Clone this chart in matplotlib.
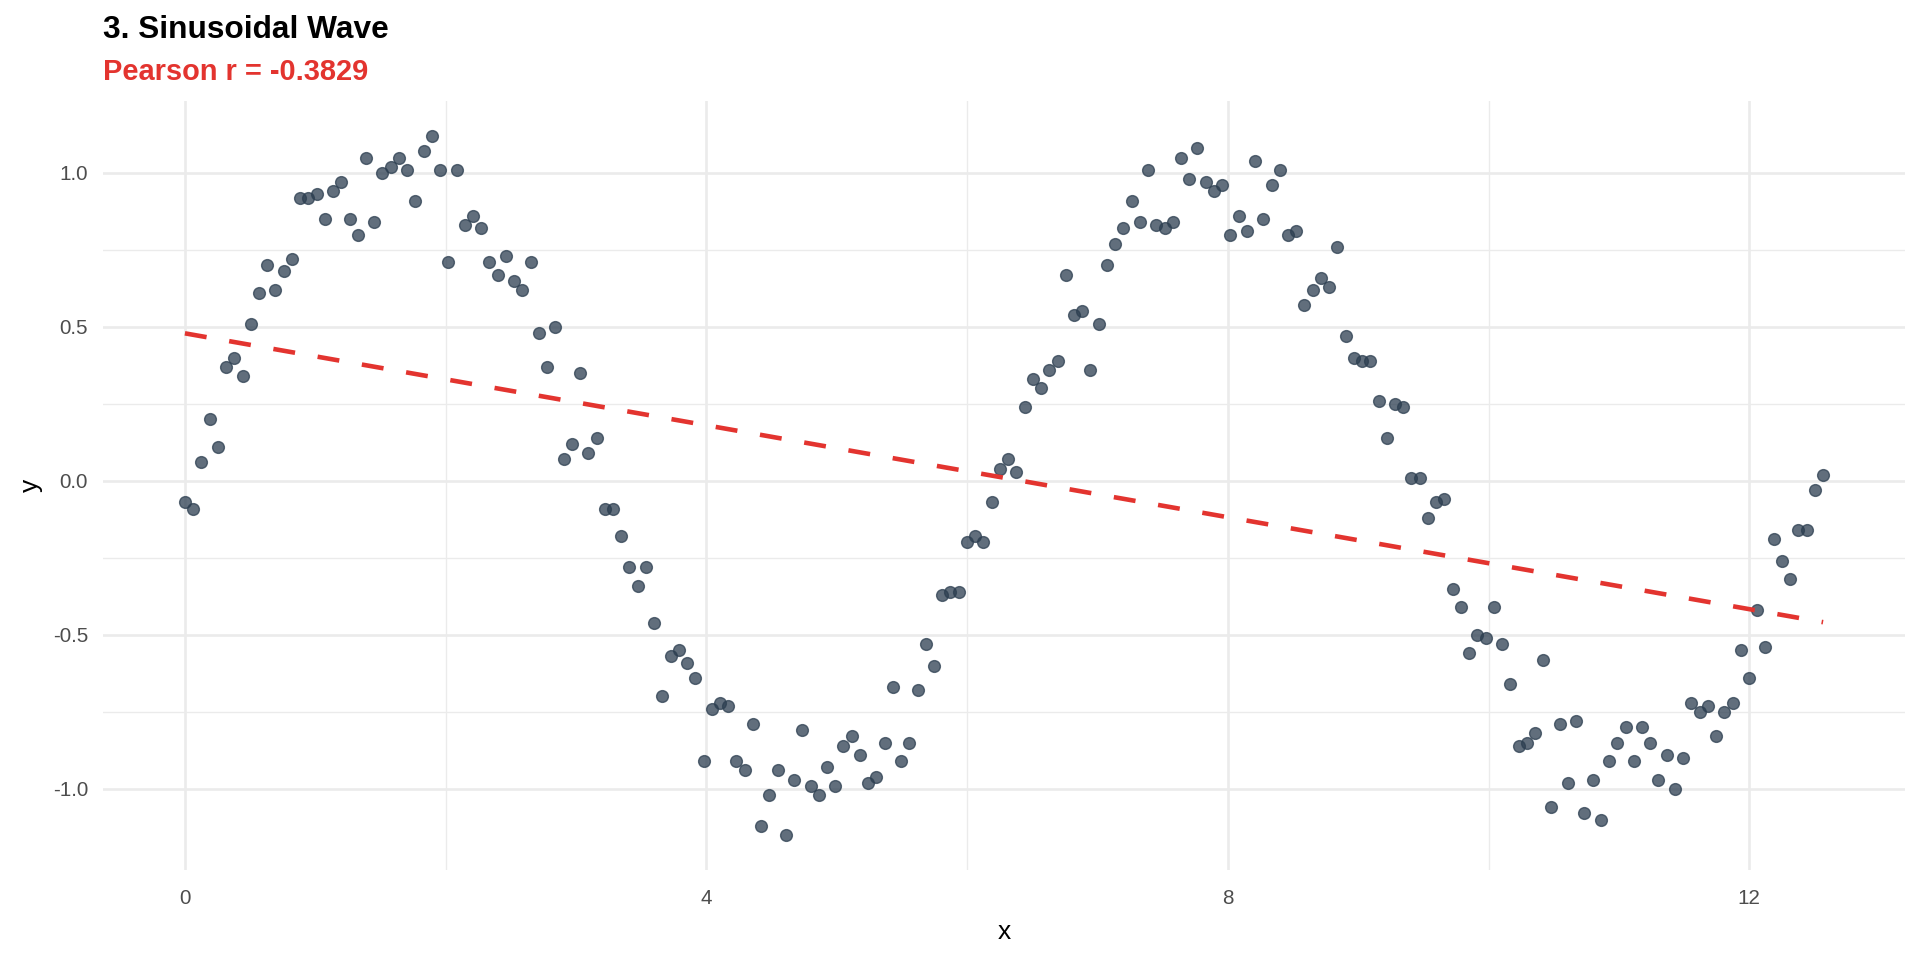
import numpy as np
import matplotlib
matplotlib.use("Agg")
import matplotlib.pyplot as plt
from matplotlib.ticker import FixedLocator, FixedFormatter

# ---------------- data ----------------
TITLE = "3. Sinusoidal Wave"
SUBTITLE = "Pearson r = -0.3829"

# x samples: 200 evenly spaced points between 0 and 4*pi
X_START, X_END, N_POINTS = 0.0, 4 * np.pi, 200
x_vals = np.linspace(X_START, X_END, N_POINTS)

y_vals = [
    -0.07, -0.09, 0.06, 0.20, 0.11, 0.37, 0.40, 0.34, 0.51, 0.61,
    0.70, 0.62, 0.68, 0.72, 0.92, 0.92, 0.93, 0.85, 0.94, 0.97,
    0.85, 0.80, 1.05, 0.84, 1.00, 1.02, 1.05, 1.01, 0.91, 1.07,
    1.12, 1.01, 0.71, 1.01, 0.83, 0.86, 0.82, 0.71, 0.67, 0.73,
    0.65, 0.62, 0.71, 0.48, 0.37, 0.50, 0.07, 0.12, 0.35, 0.09,
    0.14, -0.09, -0.09, -0.18, -0.28, -0.34, -0.28, -0.46, -0.70, -0.57,
    -0.55, -0.59, -0.64, -0.91, -0.74, -0.72, -0.73, -0.91, -0.94, -0.79,
    -1.12, -1.02, -0.94, -1.15, -0.97, -0.81, -0.99, -1.02, -0.93, -0.99,
    -0.86, -0.83, -0.89, -0.98, -0.96, -0.85, -0.67, -0.91, -0.85, -0.68,
    -0.53, -0.60, -0.37, -0.36, -0.36, -0.20, -0.18, -0.20, -0.07, 0.04,
    0.07, 0.03, 0.24, 0.33, 0.30, 0.36, 0.39, 0.67, 0.54, 0.55,
    0.36, 0.51, 0.70, 0.77, 0.82, 0.91, 0.84, 1.01, 0.83, 0.82,
    0.84, 1.05, 0.98, 1.08, 0.97, 0.94, 0.96, 0.80, 0.86, 0.81,
    1.04, 0.85, 0.96, 1.01, 0.80, 0.81, 0.57, 0.62, 0.66, 0.63,
    0.76, 0.47, 0.40, 0.39, 0.39, 0.26, 0.14, 0.25, 0.24, 0.01,
    0.01, -0.12, -0.07, -0.06, -0.35, -0.41, -0.56, -0.50, -0.51, -0.41,
    -0.53, -0.66, -0.86, -0.85, -0.82, -0.58, -1.06, -0.79, -0.98, -0.78,
    -1.08, -0.97, -1.10, -0.91, -0.85, -0.80, -0.91, -0.80, -0.85, -0.97,
    -0.89, -1.00, -0.90, -0.72, -0.75, -0.73, -0.83, -0.75, -0.72, -0.55,
    -0.64, -0.42, -0.54, -0.19, -0.26, -0.32, -0.16, -0.16, -0.03, 0.02,
]

x_ticks = [0, 4, 8, 12]
x_tick_labels = ["0", "4", "8", "12"]
x_minor = [2, 6, 10]
y_ticks = [-1.0, -0.5, 0.0, 0.5, 1.0]
y_tick_labels = ["-1.0", "-0.5", "0.0", "0.5", "1.0"]
y_minor = [-0.75, -0.25, 0.25, 0.75]

# ---------------- style ----------------
POINT_COLOR = "#2C3E50"
LINE_COLOR = "#E3342F"
GRID_COLOR = "#EBEBEB"
TICK_COLOR = "#4D4D4D"

plt.rcParams["font.family"] = ["Liberation Sans", "DejaVu Sans"]
plt.rcParams["axes.unicode_minus"] = False

W, H = 1920, 960
fig = plt.figure(figsize=(W / 100, H / 100), dpi=100)
fig.patch.set_facecolor("white")

pl, pr, pt, pb = 103, 1905, 101, 870
ax = fig.add_axes([pl / W, 1 - pb / H, (pr - pl) / W, (pb - pt) / H])

x = np.asarray(x_vals)
y = np.asarray(y_vals)

ax.scatter(x, y, s=72, facecolor=POINT_COLOR, edgecolor=POINT_COLOR,
           linewidths=1.0, alpha=0.75, zorder=3)

# linear fit (geom_smooth(method="lm"))
slope, intercept = np.polyfit(x, y, 1)
xl = np.array([x.min(), x.max()])
ax.plot(xl, intercept + slope * xl, color=LINE_COLOR, lw=3.3,
        dashes=(4.8, 5.0), dash_capstyle="butt", zorder=4)

# limits with ggplot-like 5% expansion
xr = x.max() - x.min()
ax.set_xlim(x.min() - 0.05 * xr, x.max() + 0.05 * xr)
yr = y.max() - y.min()
ax.set_ylim(y.min() - 0.05 * yr, y.max() + 0.05 * yr)

ax.xaxis.set_major_locator(FixedLocator(x_ticks))
ax.xaxis.set_major_formatter(FixedFormatter(x_tick_labels))
ax.xaxis.set_minor_locator(FixedLocator(x_minor))
ax.yaxis.set_major_locator(FixedLocator(y_ticks))
ax.yaxis.set_major_formatter(FixedFormatter(y_tick_labels))
ax.yaxis.set_minor_locator(FixedLocator(y_minor))

ax.grid(True, which="major", color=GRID_COLOR, lw=1.9, zorder=0)
ax.grid(True, which="minor", color=GRID_COLOR, lw=0.95, zorder=0)
ax.set_axisbelow(True)
for s in ax.spines.values():
    s.set_visible(False)

ax.tick_params(axis="both", which="both", length=0, labelsize=14.9,
               labelcolor=TICK_COLOR)
ax.tick_params(axis="x", which="major", pad=14.0)
ax.tick_params(axis="y", which="major", pad=10.8)

ax.set_xlabel("x", fontsize=19, color="black", va="center")
ax.xaxis.set_label_coords(0.5, (pb - 932) / (pb - pt))
ax.set_ylabel("y", fontsize=19, color="black", va="center")
ax.yaxis.set_label_coords((31 - pl) / (pr - pl), 0.5)

fig.text(pl / W, 1 - 37.7 / H, TITLE, fontsize=22.8, fontweight="bold",
         color="black", ha="left", va="baseline")
fig.text(pl / W, 1 - 80 / H, SUBTITLE, fontsize=20.9, fontweight="bold",
         color=LINE_COLOR, ha="left", va="baseline")

fig.savefig("out.png", dpi=100, facecolor="white")
